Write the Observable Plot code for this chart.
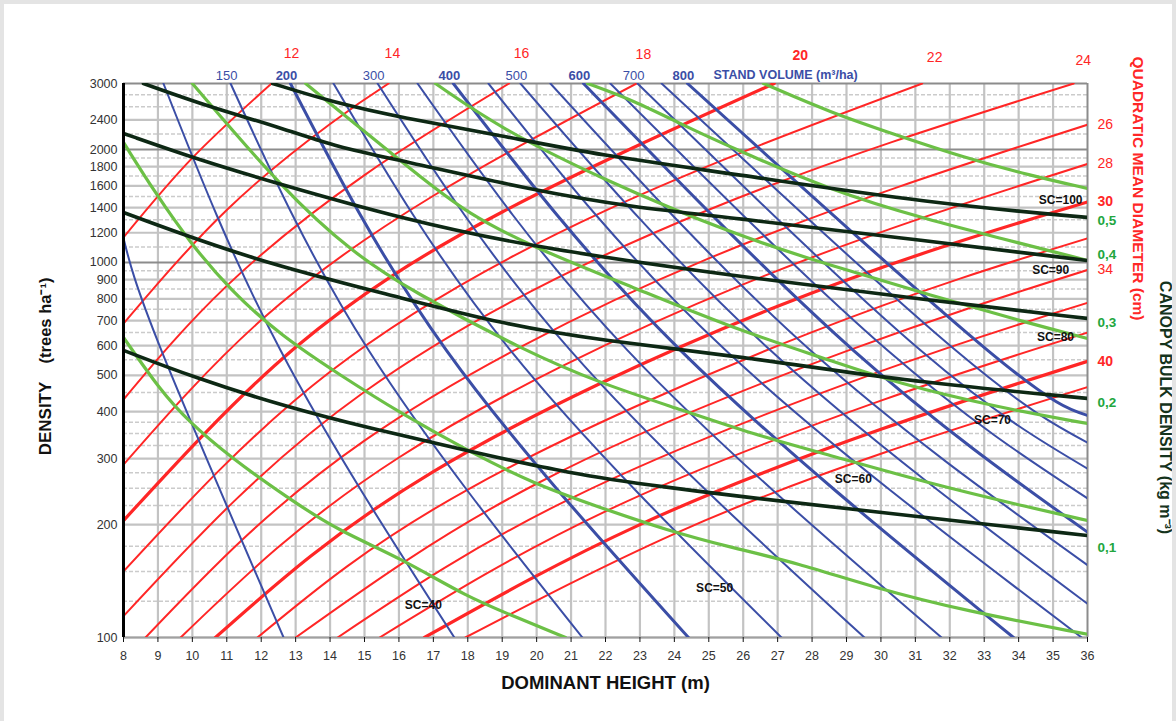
<!DOCTYPE html>
<html><head><meta charset="utf-8">
<script src="https://cdn.jsdelivr.net/npm/d3@7"></script>
<script src="https://cdn.jsdelivr.net/npm/@observablehq/plot@0.6"></script>
<style>
html,body{margin:0;padding:0;background:#fff;}
#chart{position:relative;width:1176px;height:721px;overflow:hidden;}
#edge{position:absolute;left:0;top:0;width:1176px;height:721px;box-sizing:border-box;border:4px solid #e4e4e4;border-bottom:none;pointer-events:none;}
</style></head><body><div id="chart"><div id="edge"></div></div>
<script>
// ---------- DATA (dominant height H in m, density N in trees/ha) ----------
const heightTicks = d3.range(8, 37);
const densityTicks = [100,200,300,400,500,600,700,800,900,1000,1200,1400,1600,1800,2000,2400,3000];
const gridMajor = [100,200,300,400,500,600,700,800,900,1200,1400,1600,1800,2400];
const gridMinor = [125,150,175,225,250,275,325,350,375,450,550,650,750,850,950,1100,1300,1500,1700,1900,2200,2600,2800];
const gridDark = [1000,2000];

// Quadratic mean diameter isolines (cm)
const qmdValues = [12,14,16,18,20,22,24,26,28,30,32,34,36,38,40,42];
const qmdBold = [20,30,40];
const qmdPoints = [
 [[8,1166],[10,1900],[12.3,3000]],
 [[8,687],[11,1380],[14,2340],[15.7,3000]],
 [[8,431],[11,866],[15,1710],[19.2,3000]],
 [[8,289],[12,702],[17,1506],[22.9,3000]],
 [[8,205],[13,594],[19,1363],[26.9,3000]],
 [[8,150],[14,511],[22,1375],[31.2,3000]],
 [[8,114],[15,452],[25,1382],[35.6,3000]],
 [[8.64,100],[15,335],[25,1025],[36,2330]],
 [[9.66,100],[16,302],[26,874],[36,1830]],
 [[10.67,100],[17,277],[27,764],[36,1450]],
 [[11.89,100],[18,248],[28,652],[36,1160]],
 [[13,100],[20,257],[29,580],[36,955]],
 [[14.22,100],[21,235],[30,513],[36,780]],
 [[15.44,100],[22,217],[30,428],[36,650]],
 [[16.74,100],[23,200],[30,359],[36,545]],
 [[17.93,100],[24,189],[30,309],[36,465]]
];
const qmdTopLabels = [12,14,16,18,20,22,24];
const qmdRightLabels = [26,28,30,34,40];

// Stand volume isolines (m3/ha)
const volValues = [50,100,150,200,250,300,350,400,450,500,550,600,650,700,750,800];
const volBold = [200,400,600,800];
const volPoints = [
 [[8,1160],[9.1,583],[12.65,100]],
 [[9.16,3000],[12.56,583],[17.61,100]],
 [[11.11,3000],[15.12,583],[21.33,100]],
 [[12.85,3000],[17.38,583],[24.41,100]],
 [[14.10,3000],[19.24,583],[27.11,100]],
 [[15.38,3000],[20.98,583],[29.52,100]],
 [[16.54,3000],[22.64,583],[31.76,100]],
 [[17.58,3000],[24.18,583],[33.85,100]],
 [[18.60,3000],[25.49,583],[35.83,100]],
 [[19.53,3000],[26.79,583],[36,123]],
 [[20.40,3000],[27.95,583],[36,156]],
 [[21.36,3000],[29.20,583],[36,191]],
 [[22.14,3000],[30.19,583],[36,235]],
 [[22.93,3000],[31.15,583],[36,282]],
 [[23.63,3000],[32.17,583],[36,331]],
 [[24.38,3000],[33.10,583],[36,391]]
];
const volLabels = [150,200,300,400,500,600,700,800];

// Canopy bulk density isolines (kg m-3)
const cbdValues = [0.5,0.4,0.3,0.2,0.1];
const cbdPoints = [
 [[12.33,3000],[14.10,2671],[16.05,2436],[18.95,2181],[21.85,1929],[25.63,1728],[31.44,1437],[36,1318]],
 [[8.58,3000],[10.53,2590],[12.56,2291],[14.22,2026],[16.05,1871],[19.91,1556],[22.81,1402],[25.63,1318],[30.48,1166],[36,1012]],
 [[8,2208],[10.24,1871],[12.47,1624],[16.05,1310],[19.91,1096],[25.63,923],[31.44,792],[36,709]],
 [[8,1359],[11.78,1012],[16.05,806],[18.95,687],[21.85,619],[26.21,558],[30.48,485],[36,434]],
 [[8,583],[10.03,494],[12.76,411],[15.17,361],[17.99,315],[20.90,274],[23.80,251],[26.21,236],[29.49,218],[36,187]]
];

// SC isolines
const scValues = [100,90,80,70,60,50,40];
const scPoints = [
 [[26.59,3000],[28.53,2512],[30.48,2181],[32.40,1905],[34.34,1706],[36,1575]],
 [[21.48,3000],[22.81,2704],[24.27,2319],[25.72,2014],[28.53,1556],[31.44,1294],[33.39,1166],[36,1012]],
 [[17.06,3000],[18.95,2277],[21.85,1675],[25.63,1195],[28.53,982],[31.44,817],[34.34,687],[36,627]],
 [[13.29,3000],[16.63,1686],[17.99,1351],[19.91,1096],[22.81,858],[25.63,671],[28.53,548],[30.48,476],[33.39,411],[36,372]],
 [[10.0,3000],[12.65,1556],[14.68,1057],[16.34,842],[19.62,583],[21.85,476],[24.27,403],[26.21,350],[28.53,306],[31.44,257],[34.34,222],[36,205]],
 [[8,2089],[8.93,1528],[9.95,1124],[11.11,842],[12.56,639],[14.30,500],[16.05,396],[17.99,315],[19.91,257],[21.85,222],[23.80,193],[25.63,174],[27.58,158],[29.78,136],[32.40,118],[36,102]],
 [[8,631],[9.07,456],[9.86,379],[11.11,302],[12.76,236],[14.22,193],[16.05,163],[17.99,128],[19.44,113],[20.84,100]]
];

// ---------- LAYOUT (label placement, not data) ----------
const qmdTopLabelH = [12.88,15.81,19.56,23.10,27.66,31.56,35.88];
const qmdTopLabelDy = [-35,-35,-35,-34,-33,-31,-28];
const cbdLabelDy = [3,-6,4,4,12];
const scLabelAt = [[35.22,1469],[34.93,952],[35.07,631],[33.24,379],[29.20,264],[25.17,135],[16.71,122]];

const RED = "#ff2626", BLUE = "#3b4ea6", GREEN = "#6cc046", DARK = "#0d2814", CBDG = "#22a63e";

function rows(values, pts) {
  return values.flatMap((v, i) => pts[i].map(([h, n]) => ({v, h, n})));
}
const qmdRows = rows(qmdValues, qmdPoints);
const volRows = rows(volValues, volPoints);
const cbdRows = rows(cbdValues, cbdPoints);
const scRows = rows(scValues, scPoints);
const lastOf = (values, pts) => values.map((v, i) => ({v, h: pts[i][pts[i].length-1][0], n: pts[i][pts[i].length-1][1], h0: pts[i][0][0]}));

const qmdEnds = lastOf(qmdValues, qmdPoints);
const volEnds = lastOf(volValues, volPoints);
const cbdEnds = lastOf(cbdValues, cbdPoints);

const marks = [
  Plot.ruleY(gridMinor, {stroke: "#cbcbcb", strokeWidth: 1.5, strokeDasharray: "4,2"}),
  Plot.ruleY(gridMajor, {stroke: "#c3c3c3", strokeWidth: 2.2}),
  Plot.ruleX(heightTicks.filter(h => h > 8 && h < 36), {stroke: "#c3c3c3", strokeWidth: 2.2}),
  Plot.ruleY(gridDark, {stroke: "#8c8c8c", strokeWidth: 2}),
  Plot.ruleY([3000], {stroke: "#8c8c8c", strokeWidth: 2}),
  Plot.ruleY([100], {stroke: "#a0a0a0", strokeWidth: 2}),
  Plot.ruleX([36], {stroke: "#8c8c8c", strokeWidth: 2}),

  Plot.line(qmdRows.filter(r => !qmdBold.includes(r.v)), {x: "h", y: "n", z: "v", stroke: RED, strokeWidth: 2, curve: "natural", clip: true}),
  Plot.line(qmdRows.filter(r => qmdBold.includes(r.v)), {x: "h", y: "n", z: "v", stroke: RED, strokeWidth: 3.2, curve: "natural", clip: true}),
  Plot.line(volRows.filter(r => !volBold.includes(r.v)), {x: "h", y: "n", z: "v", stroke: BLUE, strokeWidth: 2, curve: "natural", clip: true}),
  Plot.line(volRows.filter(r => volBold.includes(r.v)), {x: "h", y: "n", z: "v", stroke: BLUE, strokeWidth: 3, curve: "natural", clip: true}),
  Plot.line(scRows, {x: "h", y: "n", z: "v", stroke: GREEN, strokeWidth: 3.2, curve: "basis", clip: true}),
  Plot.line(cbdRows, {x: "h", y: "n", z: "v", stroke: DARK, strokeWidth: 3.6, curve: "basis", clip: true}),

  Plot.ruleX([8], {stroke: "#000", strokeWidth: 3}),
  Plot.axisX(heightTicks, {tickSize: 5, tickPadding: 9, fontSize: 12.5, label: null, stroke: "#111"}),
  Plot.axisY(densityTicks, {tickSize: 0, tickPadding: 6, fontSize: 12.5, label: null, tickFormat: d => String(d)}),

  // axis titles
  Plot.text(["DOMINANT HEIGHT (m)"], {frameAnchor: "bottom", dy: 51, fontSize: 18.5, fontWeight: "bold", fill: "#111", textAnchor: "middle"}),
  Plot.text(["DENSITY"], {frameAnchor: "left", dx: -78, dy: 58, rotate: -90, fontSize: 17, fontWeight: "bold", fill: "#111", textAnchor: "middle"}),
  Plot.text(["(trees ha\u207B\u00B9)"], {frameAnchor: "left", dx: -78, dy: -40, rotate: -90, fontSize: 16.5, fontWeight: "bold", fill: "#111", textAnchor: "middle"}),
  Plot.text(["QUADRATIC MEAN DIAMETER (cm)"], {frameAnchor: "right", dx: 50, dy: -172, rotate: 90, fontSize: 15.5, fontWeight: "bold", fill: RED, textAnchor: "middle"}),
  Plot.text(["CANOPY BULK DENSITY (kg m\u207B\u00B3)"], {frameAnchor: "right", dx: 78, dy: 47, rotate: 90, fontSize: 16, fontWeight: "bold", fill: "#15331c", textAnchor: "middle"}),
  Plot.text(["STAND VOLUME (m\u00B3/ha)"], {frameAnchor: "top-left", dx: 590, dy: -13, textAnchor: "start", fontSize: 12.5, fontWeight: "bold", fill: BLUE}),

  // volume labels at top crossings
  ...volLabels.map(v => {
    const e = volEnds.find(d => d.v === v);
    return Plot.text([v], {x: () => e.h0, frameAnchor: "top", dx: -4, dy: -13, text: d => String(d), fontSize: 13, fontWeight: volBold.includes(v) ? "bold" : "normal", fill: BLUE, textAnchor: "middle"});
  }),
  // QMD labels top
  ...qmdTopLabels.map((v, i) => Plot.text([v], {x: () => qmdTopLabelH[i], frameAnchor: "top", dy: qmdTopLabelDy[i], text: d => String(d), fontSize: 14, fontWeight: qmdBold.includes(v) ? "bold" : "normal", fill: RED, textAnchor: "middle"})),
  // QMD labels right
  ...qmdRightLabels.map(v => {
    const e = qmdEnds.find(d => d.v === v);
    return Plot.text([v], {y: () => e.n, frameAnchor: "right", dx: 10, text: d => String(d), fontSize: 14, fontWeight: qmdBold.includes(v) ? "bold" : "normal", fill: RED, textAnchor: "start"});
  }),
  // CBD labels right
  ...cbdEnds.map((e, i) => Plot.text([e.v], {y: () => e.n, frameAnchor: "right", dx: 10, dy: cbdLabelDy[i], text: d => d.toFixed(1).replace(".", ","), fontSize: 13.5, fontWeight: "bold", fill: CBDG, textAnchor: "start"})),
  // SC labels
  Plot.text(scValues, {x: (d, i) => scLabelAt[i][0], y: (d, i) => scLabelAt[i][1], text: d => "SC=" + d, fontSize: 12, fontWeight: "bold", fill: "#111"})
];

const chart = Plot.plot({
  width: 1176, height: 721,
  marginTop: 83, marginRight: 89, marginBottom: 84, marginLeft: 123,
  x: {domain: [8, 36], axis: null},
  y: {type: "log", domain: [100, 3000], axis: null},
  style: {fontFamily: "'Liberation Sans', Arial, sans-serif", color: "#333", background: "#fff", overflow: "visible"},
  marks
});
document.getElementById("chart").prepend(chart);
</script></body></html>
